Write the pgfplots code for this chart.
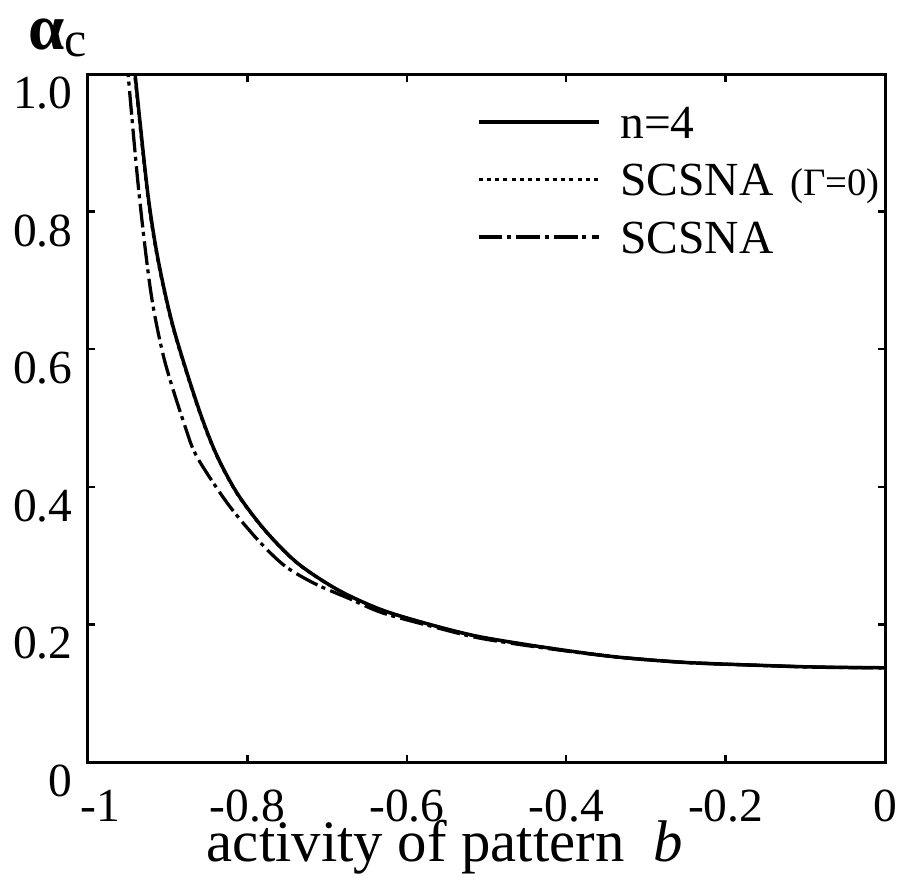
\documentclass[border=0pt]{standalone}
\usepackage{fontspec}
\setmainfont{Liberation Serif}
\usepackage{pgfplots}
\pgfplotsset{compat=1.18}

\begin{document}
\begin{tikzpicture}
\begin{axis}[
  scale only axis, width=318.8pt, height=275.2pt,
  xmin=-1, xmax=0, ymin=0, ymax=1,
  clip mode=individual,
  axis line style={line width=1.2pt},
  tick style={line width=1pt, black},
  major tick length=3pt,
  tick align=inside,
  xtick={-1,-0.8,-0.6,-0.4,-0.2,0},
  xticklabels={\hspace*{9.6pt}-1,-0.8,-0.6,-0.4,-0.2,0},
  ytick={0,0.2,0.4,0.6,0.8,1},
  yticklabels={0,0.2,0.4,0.6,0.8,1.0},
  tick label style={font=\rmfamily\fontsize{19}{19}\selectfont},
  xticklabel style={anchor=north, inner sep=0pt, yshift=-11pt},
  yticklabel style={anchor=east, inner sep=0pt, xshift=-6pt, yshift=-7.6pt},
  xlabel={activity of pattern\ \ \textit{b}},
  every axis x label/.style={at={(rel axis cs:0.448,-0.145)}, anchor=base, inner sep=0pt, font=\rmfamily\fontsize{23.5}{23.5}\selectfont},
  ylabel={{\fontsize{26}{26}\selectfont\bfseries α}{\fontsize{20}{20}\selectfont\raisebox{-3pt}{c}}},
  every axis y label/.style={at={(rel axis cs:-0.075,1.036)}, anchor=base west, inner sep=0pt, font=\rmfamily},
  legend cell align=left,
  legend style={draw=none, fill=none, inner sep=0pt, outer sep=0pt,
    at={(rel axis cs:0.488,0.972)}, anchor=north west,
    row sep=0pt, column sep=8pt,
    font=\rmfamily\fontsize{19}{19}\selectfont,
    nodes={inner sep=0pt, text height=17.9pt, text depth=5.1pt}},
  legend image code/.code={\draw[#1] (0pt,0pt) -- (48pt,0pt);},
]
\addplot[black, line width=1.4pt, smooth] coordinates {
(-0.943,1.03) (-0.9405,0.995) (-0.925,0.827) (-0.912,0.730) (-0.893,0.632)
(-0.863,0.520) (-0.840,0.450) (-0.813,0.391) (-0.778,0.337) (-0.737,0.289)
(-0.686,0.250) (-0.631,0.221) (-0.568,0.199) (-0.508,0.182) (-0.423,0.166)
(-0.339,0.153) (-0.254,0.145) (-0.169,0.141) (-0.085,0.138) (0,0.137)
};
\addlegendentry{n=4}
\addplot[black, line width=1.2pt, dash pattern=on 1.6pt off 1.7pt, smooth] coordinates {
(-0.9435,1.03) (-0.941,0.995) (-0.9255,0.827) (-0.9125,0.730) (-0.8935,0.632)
(-0.8635,0.520) (-0.8405,0.450) (-0.8135,0.391) (-0.7785,0.337) (-0.7375,0.289)
(-0.6865,0.250) (-0.6315,0.221) (-0.5685,0.199) (-0.5085,0.182) (-0.4235,0.166)
(-0.3395,0.153) (-0.2545,0.145) (-0.1695,0.141) (-0.0855,0.138) (0,0.137)
};
\addlegendentry{SCSNA\hspace{0.35em}{\fontsize{15.5}{15.5}\selectfont(Γ=0)}}
\addplot[black, line width=1.3pt, dash pattern=on 9.5pt off 1.8pt on 1.6pt off 2.2pt, smooth] coordinates {
(-0.951,1.03) (-0.949,0.991) (-0.936,0.827) (-0.921,0.682) (-0.904,0.584)
(-0.878,0.487) (-0.863,0.443) (-0.825,0.376) (-0.787,0.323) (-0.753,0.285)
(-0.715,0.259) (-0.673,0.238) (-0.631,0.217) (-0.568,0.197) (-0.508,0.180)
(-0.423,0.165) (-0.339,0.153) (-0.254,0.145) (-0.169,0.141) (-0.085,0.138) (0,0.137)
};
\addlegendentry{SCSNA}
\path (rel axis cs:-0.1104,-0.1802) (rel axis cs:1.0163,1.1076);
\end{axis}
\end{tikzpicture}
\end{document}
